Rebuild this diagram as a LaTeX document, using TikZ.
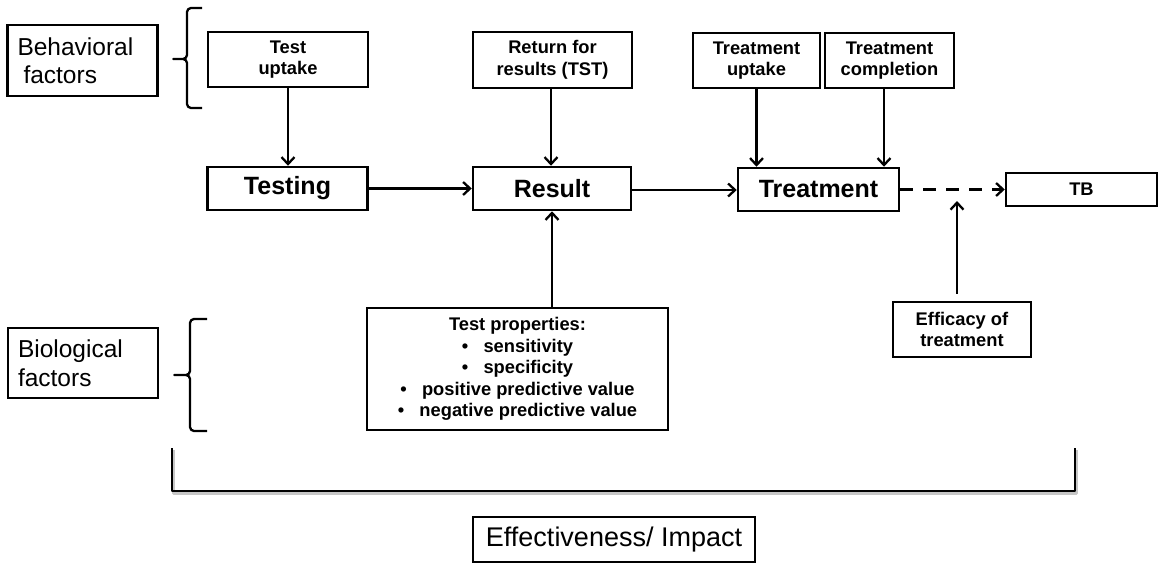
\documentclass[tikz,border=0pt]{standalone}
\usepackage{fontspec}
\setmainfont{Liberation Sans}
\usetikzlibrary{arrows.meta}
\tikzset{
  box/.style={draw=black, line width=2.5pt, inner sep=0pt, align=center},
  small/.style={font=\fontsize{18.3}{21.5}\selectfont\bfseries},
  big/.style={font=\fontsize{25}{28}\selectfont\bfseries},
  factor/.style={box, align=left, text width=130pt, inner xsep=10pt, font=\fontsize{24.5}{28.5}\selectfont},
  conn/.style={line width=2.3pt, -{Straight Barb[length=7pt,width=13pt,line width=2.3pt]}},
  dconn/.style={conn, dash pattern=on 13pt off 10pt},
  brace/.style={line width=2.3pt, line join=round, rounded corners=4pt},
}
\begin{document}
\begin{tikzpicture}[x=1pt,y=-1pt]
\useasboundingbox (0,0) rectangle (1159,563);
% factor labels
\node[factor, minimum width=149pt, minimum height=71pt] (beh) at (82.5,60.5) {Behavioral\\\hspace*{6pt}factors};
\node[factor, minimum width=150pt, minimum height=70pt] (bio) at (83,363) {Biological\\factors};
% top boxes
\node[box, small, minimum width=160pt, minimum height=55pt] (testup) at (288,59.5) {Test\\uptake};
\node[box, small, minimum width=159pt, minimum height=56pt] (ret) at (552.5,60) {Return for\\results (TST)};
\node[box, small, minimum width=127pt, minimum height=55pt] (trup) at (756.5,60.5) {Treatment\\uptake};
\node[box, small, minimum width=129pt, minimum height=55pt] (trcomp) at (889.5,60.5) {Treatment\\completion};
% main row
\node[box, big, minimum width=160pt, minimum height=43pt] (testing) at (287.5,188.5) {Testing};
\node[box, big, minimum width=158pt, minimum height=43pt] (result) at (552,188.5) {Result};
\node[box, big, minimum width=161pt, minimum height=43pt] (treat) at (818.5,189.5) {Treatment};
\node[box, small, minimum width=151pt, minimum height=33pt] (tb) at (1081.5,189.5) {TB};
% lower boxes
\node[box, small, minimum width=301pt, minimum height=122pt] (props) at (517.5,369)
  {Test properties:\\\textbullet\ \ \ sensitivity\\\textbullet\ \ \ specificity\\\textbullet\ \ \ positive predictive value\\\textbullet\ \ \ negative predictive value};
\node[box, small, minimum width=138pt, minimum height=55pt] (eff) at (962,329.5) {Efficacy of\\treatment};
\node[draw=black, line width=1.2pt, inner sep=0pt, minimum width=282pt, minimum height=45pt,
  font=\fontsize{27}{30}\selectfont] (impact) at (614,539.5) {Effectiveness/ Impact};
% connectors
\draw[conn] (testup.south) -- (testup.south |- testing.north);
\draw[conn] (testing.east) -- (testing.east -| result.west);
\draw[conn] ([xshift=-1.5pt]ret.south) -- ([xshift=-1.5pt]ret.south |- result.north);
\draw[conn] ([yshift=-1.5pt]result.east) -- ([yshift=-1.5pt]result.east -| treat.west);
\draw[conn] (trup.south) -- (trup.south |- treat.north);
\draw[conn] ([xshift=-5.5pt]trcomp.south) -- ([xshift=-5.5pt]trcomp.south |- treat.north);
\draw[dconn] (treat.east) -- (treat.east -| tb.west);
\coordinate (effpt) at (957,201);
\draw[conn] ([xshift=-5pt,yshift=7pt]eff.north) -- (effpt);
\draw[conn] (result.south |- props.north) -- (result.south);
% braces
\draw[brace] (202,8) -- (187,8) -- (187,59) -- (171,59) -- (187,59) -- (187,108) -- (202,108);
\draw[brace] (207,319) -- (190,319) -- (190,375) -- (172,375) -- (190,375) -- (190,431) -- (207,431);
% bottom bracket
\draw[line width=2.5pt, gray!45, line join=round] (173.5,450) -- (173.5,493.5) -- (1076.5,493.5) -- (1076.5,450);
\draw[line width=2.7pt, line join=round] (172,448) -- (172,491) -- (1075,491) -- (1075,448);
\end{tikzpicture}
\end{document}
